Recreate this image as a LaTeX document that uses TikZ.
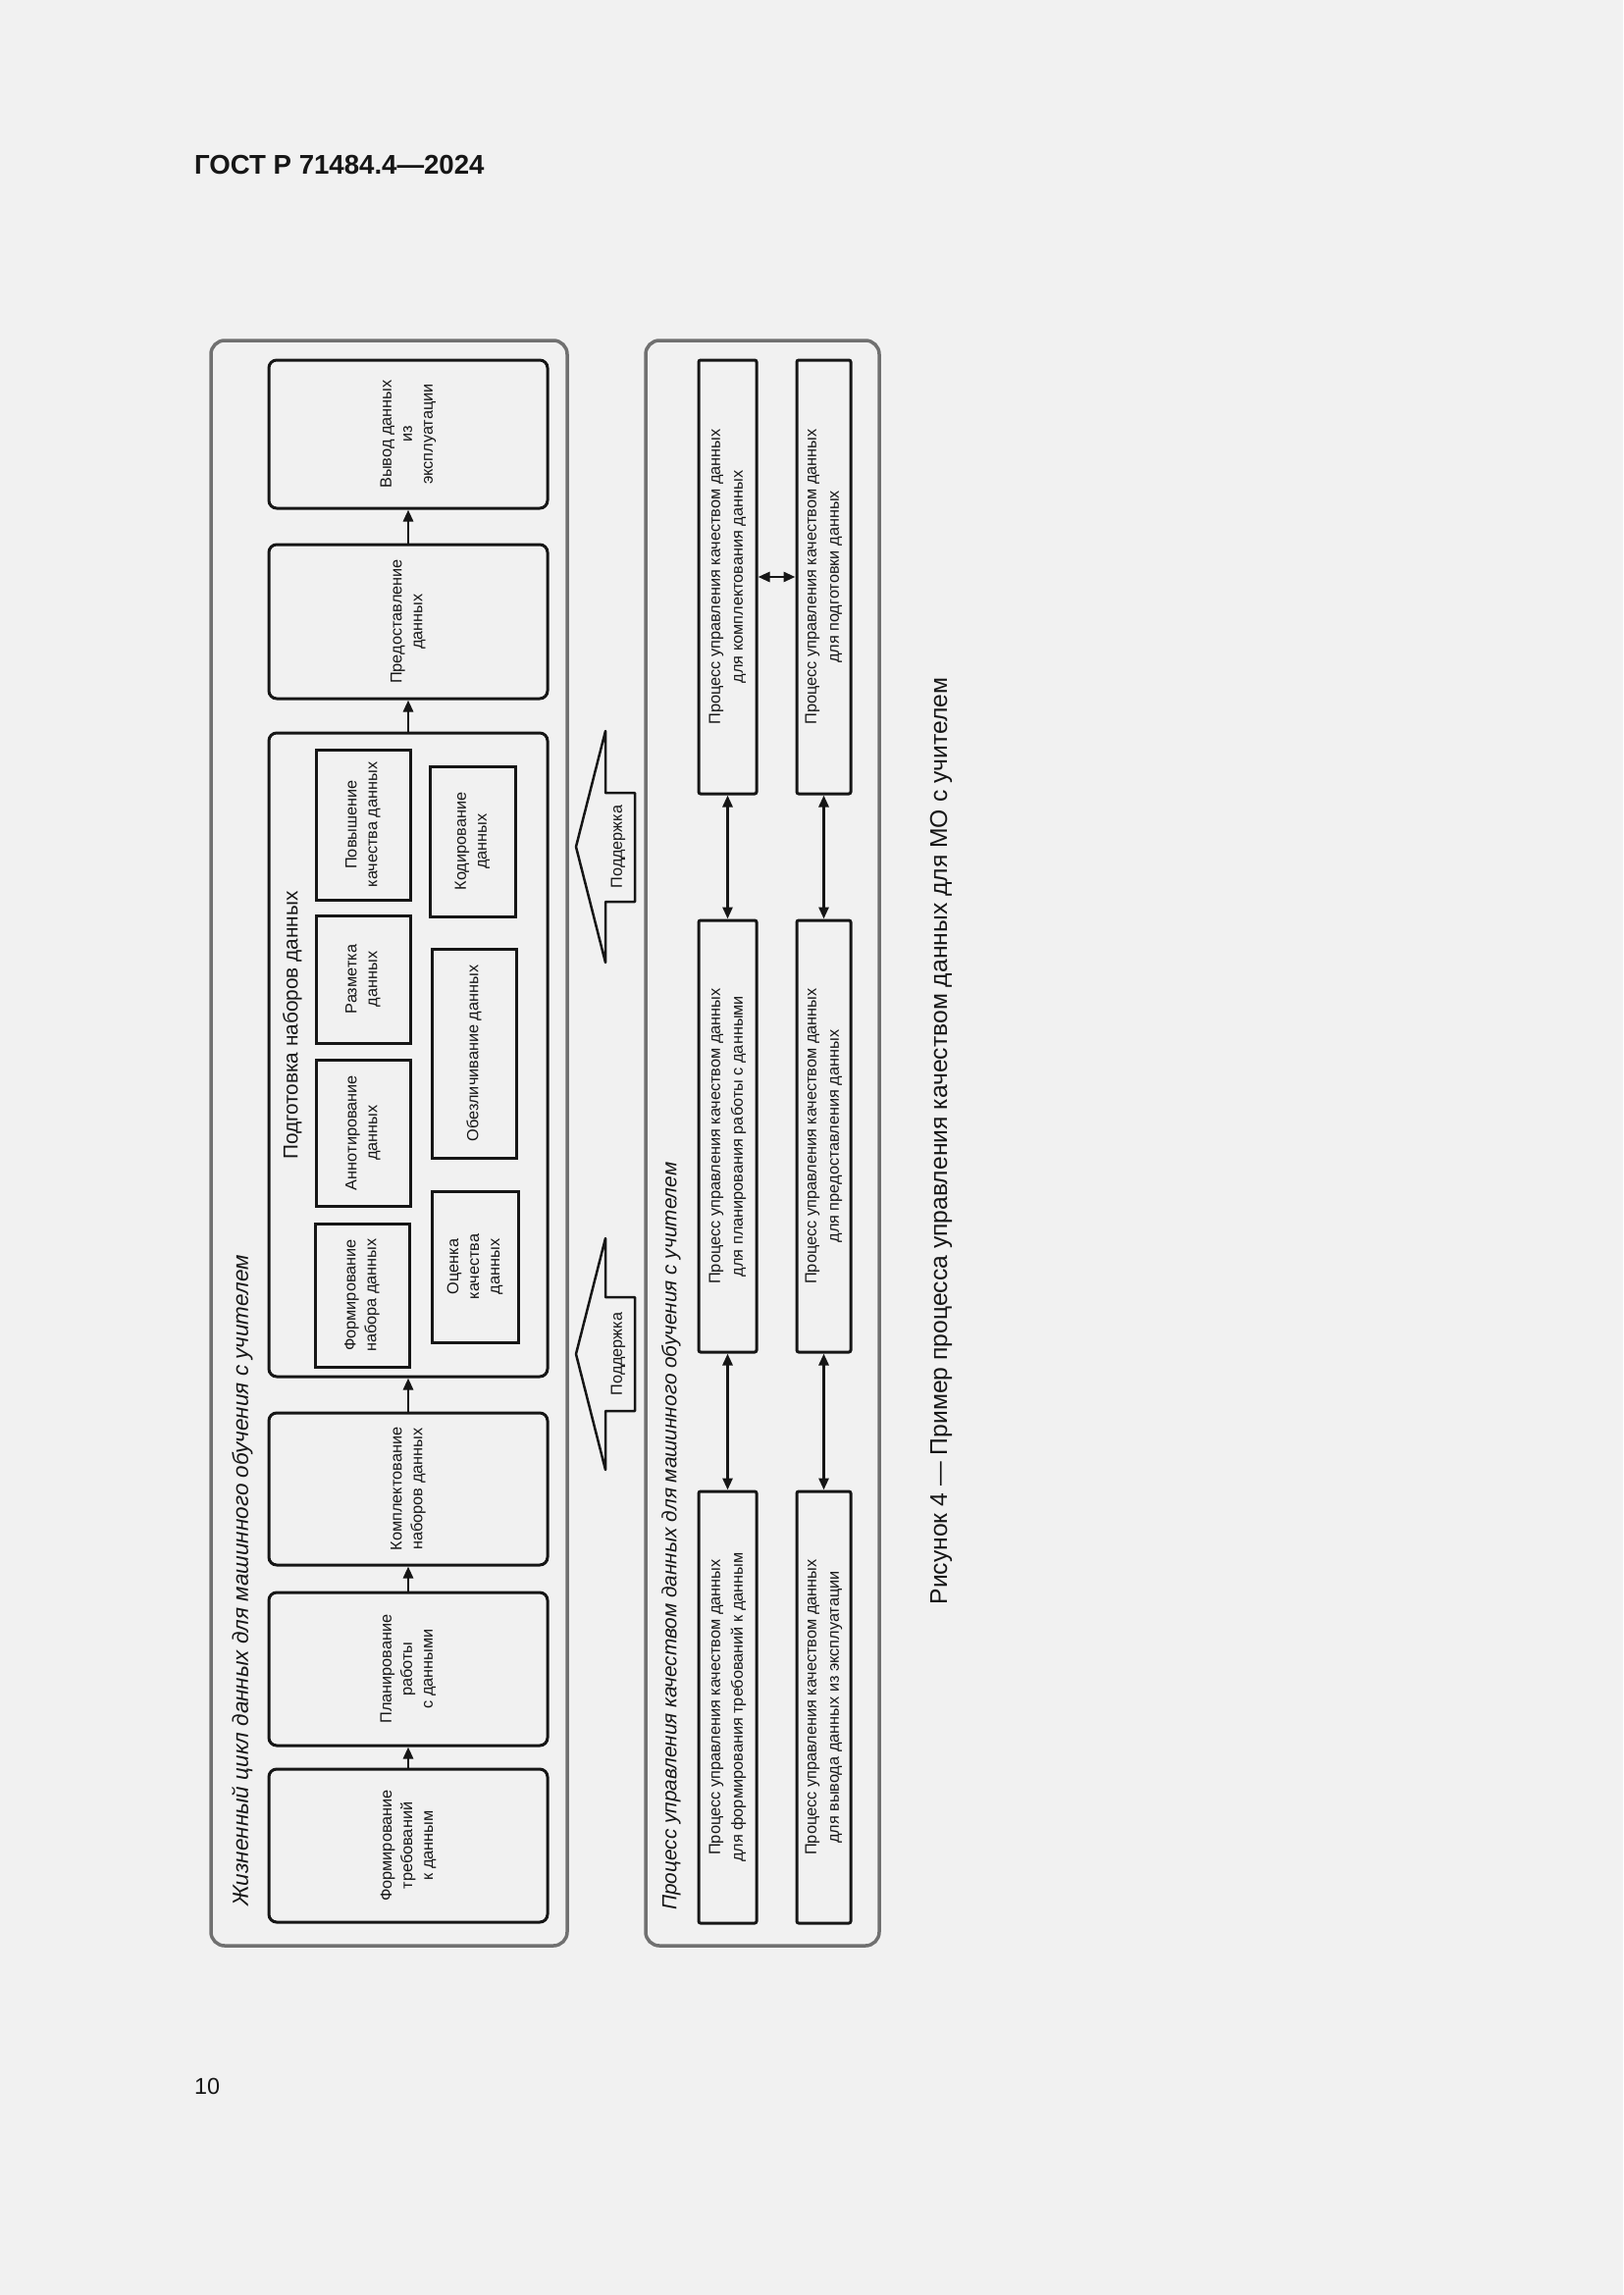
\documentclass[tikz,border=0pt]{standalone}
\usepackage{fontspec}
\setmainfont{Liberation Sans}
\usetikzlibrary{arrows.meta}
\definecolor{pagebg}{RGB}{241,241,241}
\definecolor{ink}{RGB}{22,22,22}
\definecolor{framec}{RGB}{112,112,112}
\newcommand\boxfont{\fontsize{16.3}{21}\selectfont}
\newcommand\qfont{\fontsize{16.3}{23}\selectfont}
\newcommand\ttlfont{\fontsize{22.5}{27}\selectfont\itshape}
\tikzset{
  lcbox/.style={draw=ink, line width=3pt, rounded corners=8pt, rotate=90, align=center, inner sep=0pt, font=\boxfont, text=ink},
  inbox/.style={draw=ink, line width=3pt, rotate=90, align=center, inner sep=0pt, font=\boxfont, text=ink},
  qbox/.style={draw=ink, line width=3pt, rounded corners=2pt, rotate=90, align=center, inner sep=0pt, font=\qfont, text=ink},
  contbox/.style={draw=framec, line width=3.5pt, rounded corners=14pt, inner sep=0pt},
  flow/.style={draw=ink, line width=2.8pt, -{Triangle[length=12pt,width=10pt]}},
  twoway/.style={draw=ink, line width=2.8pt, {Triangle[length=12pt,width=10pt]}-{Triangle[length=12pt,width=10pt]}},
  supshape/.style={draw=ink, line width=2.5pt, line join=round},
  ttl/.style={rotate=90, font=\ttlfont, text=ink, inner sep=0pt},
  plain/.style={text=ink, inner sep=0pt}
}
\begin{document}
\begin{tikzpicture}[x=1pt,y=-1pt]
\fill[pagebg] (0,0) rectangle (1654,2339);
\useasboundingbox (0,0) rectangle (1654,2339);

% header and page number
\node[plain, anchor=base west, font=\fontsize{27.6}{32}\selectfont\bfseries] (hdr) at (198,177) {ГОСТ Р 71484.4—2024};
\node[plain, anchor=base west, font=\fontsize{23.4}{28}\selectfont] (pgnum) at (198,2134) {10};

% containers
\node[contbox, minimum width=363pt, minimum height=1636pt] (lc) at (396.5,1165) {};
\node[contbox, minimum width=238pt, minimum height=1636pt] (qc) at (777,1165) {};

\node[ttl, anchor=west] (lcT) at (247,1943) {Жизненный цикл данных для машинного обучения с учителем};
\node[ttl, anchor=west, font=\fontsize{20.8}{25}\selectfont\itshape] (qcT) at (684,1947) {Процесс управления качеством данных для машинного обучения с учителем};

% lifecycle boxes
\node[lcbox, minimum width=156pt, minimum height=284pt] (form) at (416,1881) {Формирование\\требований\\к данным};
\node[lcbox, minimum width=156pt, minimum height=284pt] (plan) at (416,1701) {Планирование\\работы\\с данными};
\node[lcbox, minimum width=155pt, minimum height=284pt] (kompl) at (416,1517.5) {Комплектование\\наборов данных};
\node[lcbox, minimum width=656pt, minimum height=284pt] (podg) at (416,1075) {};
\node[lcbox, minimum width=157pt, minimum height=284pt] (predost) at (416,633.5) {Предоставление\\данных};
\node[lcbox, minimum width=151pt, minimum height=284pt] (vyvod) at (416,442.5) {Вывод данных\\из\\эксплуатации};

\node[plain, rotate=90, font=\fontsize{20.8}{25}\selectfont] (podgT) at (298,1045) {Подготовка наборов данных};

% inner boxes
\node[inbox, minimum width=153pt, minimum height=96pt] (povysh) at (370,840.5) {Повышение\\качества данных};
\node[inbox, minimum width=130pt, minimum height=96pt] (razm) at (370,998) {Разметка\\данных};
\node[inbox, minimum width=149pt, minimum height=96pt] (annot) at (370,1154.5) {Аннотирование\\данных};
\node[inbox, minimum width=146pt, minimum height=96pt] (formnab) at (369,1320) {Формирование\\набора данных};
\node[inbox, minimum width=153pt, minimum height=87pt] (kodir) at (481.5,857.5) {Кодирование\\данных};
\node[inbox, minimum width=213pt, minimum height=86pt] (obezl) at (483,1073.5) {Обезличивание данных};
\node[inbox, minimum width=154pt, minimum height=88pt] (ocenka) at (484,1291) {Оценка\\качества\\данных};

% lifecycle arrows
\draw[flow] (form.east) -- (plan.west);
\draw[flow] (plan.east) -- (kompl.west);
\draw[flow] (kompl.east) -- (podg.west);
\draw[flow] (podg.east) -- (predost.west);
\draw[flow] (predost.east) -- (vyvod.west);

% support arrows
\draw[supshape] (587,863) -- (617,745) -- (617,808) -- (647,808) -- (647,919) -- (617,919) -- (617,981) -- cycle;
\node[plain, rotate=90, font=\fontsize{16.2}{19}\selectfont] (sup1) at (630,863) {Поддержка};
\draw[supshape] (587,1380) -- (617,1262) -- (617,1322) -- (647,1322) -- (647,1438) -- (617,1438) -- (617,1498) -- cycle;
\node[plain, rotate=90, font=\fontsize{16.2}{19}\selectfont] (sup2) at (630,1380) {Поддержка};

% quality management boxes
\node[qbox, minimum width=442pt, minimum height=59pt] (a3) at (741.5,588) {Процесс управления качеством данных\\для комплектования данных};
\node[qbox, minimum width=440pt, minimum height=59pt] (a2) at (741.5,1158) {Процесс управления качеством данных\\для планирования работы с данными};
\node[qbox, minimum width=440pt, minimum height=59pt] (a1) at (741.5,1740) {Процесс управления качеством данных\\для формирования требований к данным};
\node[qbox, minimum width=442pt, minimum height=55pt] (b3) at (839.5,588) {Процесс управления качеством данных\\для подготовки данных};
\node[qbox, minimum width=440pt, minimum height=55pt] (b2) at (839.5,1158) {Процесс управления качеством данных\\для предоставления данных};
\node[qbox, minimum width=440pt, minimum height=55pt] (b1) at (839.5,1740) {Процесс управления качеством данных\\для вывода данных из эксплуатации};

\draw[twoway] (a1.east) -- (a2.west);
\draw[twoway] (a2.east) -- (a3.west);
\draw[twoway] (b1.east) -- (b2.west);
\draw[twoway] (b2.east) -- (b3.west);
\draw[twoway] (a3.south) -- (b3.north);

% caption
\node[plain, rotate=90, font=\fontsize{24.7}{29}\selectfont] (cap) at (959,1163) {Рисунок 4 — Пример процесса управления качеством данных для МО с учителем};
\end{tikzpicture}
\end{document}
